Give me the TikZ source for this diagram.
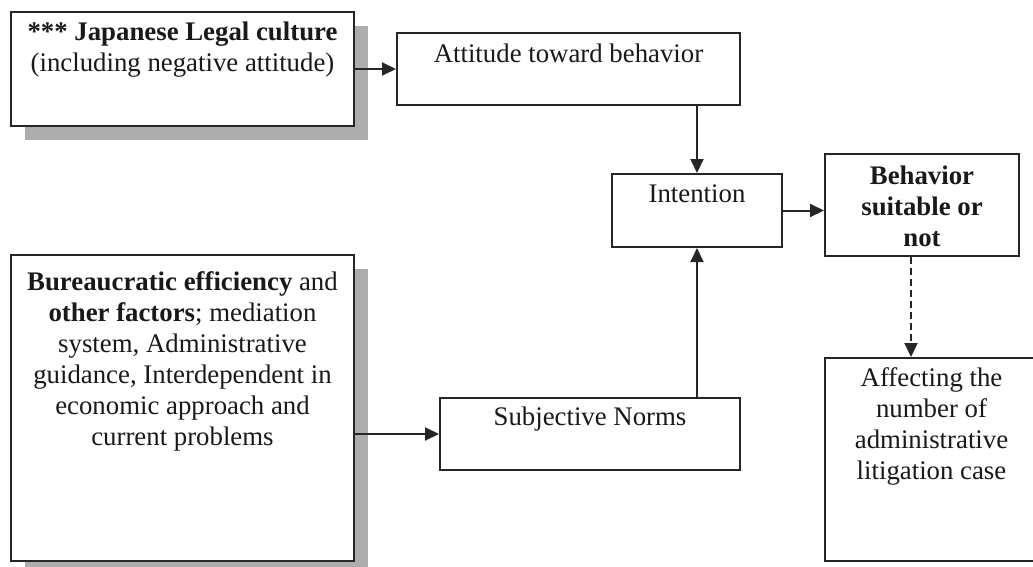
\documentclass[tikz,border=0pt]{standalone}
\usepackage{fontspec}
\setmainfont{Liberation Serif}
\usetikzlibrary{arrows.meta,shadows}

\begin{document}
\begin{tikzpicture}[
        % pixel grid of the figure, y downwards
        x=0.5pt,
        y=-0.5pt,
        box/.style={draw=black!85, line width=1pt, fill=white, rectangle, inner sep=0pt},
        shadowbox/.style={box, drop shadow={shadow xshift=6.8pt, shadow yshift=-6.8pt, fill=black!32, opacity=1}},
        lbl/.style={anchor=north, align=center, inner sep=5pt, text=black!90, font=\fontsize{13.4}{15.5}\selectfont},
        arr/.style={-{Triangle[length=7pt, width=6.5pt]}, line width=1pt, black!85},
        dasharr/.style={arr, dash pattern=on 3.5pt off 2pt}
    ]

        % --- 0. picture size ---
        \useasboundingbox (0,0) rectangle (1033,567);

        % --- 1. left column (with shadows) ---
        \node[shadowbox, minimum width=171.5pt, minimum height=57pt] (cult) at (182.5,69) {};
        \node[lbl, inner sep=5.5pt] (cult-t) at (cult.north) {\textbf{*** Japanese Legal culture}\\(including negative attitude)};

        \node[shadowbox, minimum width=171.5pt, minimum height=153pt] (bur) at (182.5,408) {};
        \node[lbl, inner sep=8.5pt] (bur-t) at (bur.north) {\textbf{Bureaucratic efficiency} and\\
            \textbf{other factors}; mediation\\ system, Administrative\\ guidance, Interdependent in\\
            economic approach and\\ current problems};

        % --- 2. middle column ---
        \node[box, minimum width=171.5pt, minimum height=36pt] (att) at (568.5,69) {};
        \node[lbl, inner sep=6pt] (att-t) at (att.north) {Attitude toward behavior};

        \node[box, minimum width=85pt, minimum height=36.5pt] (int) at (697,210.5) {};
        \node[lbl, inner sep=5.5pt] (int-t) at (int.north) {Intention};

        \node[box, minimum width=150pt, minimum height=36pt] (subj) at (590,434) {};
        \node[lbl] (subj-t) at (subj.north) {Subjective Norms};

        % --- 3. right column ---
        \node[box, minimum width=97pt, minimum height=51pt] (beh) at (922,205) {};
        \node[lbl, inner sep=6.5pt] (beh-t) at (beh.north) {\textbf{Behavior}\\\textbf{suitable or}\\\textbf{not}};

        \node[box, minimum width=106.5pt, minimum height=101.5pt] (aff) at (931.5,459.5) {};
        \node[lbl] (aff-t) at (aff.north) {Affecting the\\ number of\\ administrative\\ litigation case};

        % --- 4. arrows ---
        \draw[arr] (cult.east) -- (att.west);
        \draw[arr] (att.south -| int.north) -- (int.north);
        \draw[arr] (int.east) -- (int.east -| beh.west);
        \draw[arr] (subj.west -| bur.east) -- (subj.west);
        \draw[arr] (subj.north -| int.south) -- (int.south);
        \draw[dasharr] ([xshift=-5.5pt]beh.south) -- ([xshift=-5.5pt]beh.south |- aff.north);

\end{tikzpicture}
\end{document}
